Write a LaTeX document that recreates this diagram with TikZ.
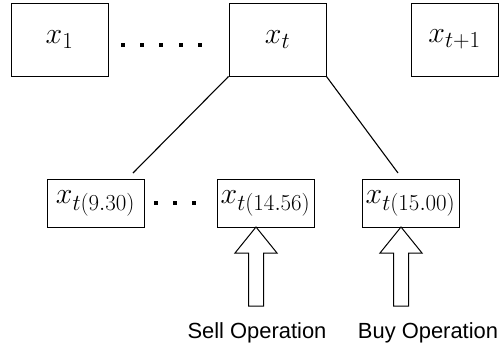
\RequirePackage{fix-cm}
\documentclass[tikz,border=0pt]{standalone}
\usepackage{fontspec}
\newfontfamily\opfont{Liberation Sans}
\DeclareMathSizes{30}{30}{23}{16}

\tikzset{
  statebox/.style={draw, line width=0.8pt, minimum width=97bp, minimum height=73bp, inner sep=0pt, font=\fontsize{30}{36}\selectfont},
  pricebox/.style={statebox, minimum height=48bp},
  blockarrow/.style={draw, line width=1pt, fill=white, line join=miter},
  optext/.style={font=\opfont\fontsize{22}{26}\selectfont, inner sep=0pt},
}

\begin{document}
\begin{tikzpicture}[x=1bp,y=-1bp]

\useasboundingbox (0,0) rectangle (499,348);

\node[statebox] (xOne) at (59.5,39.5) {$x_1$};
\node[statebox] (xT) at (277.5,39.5) {$x_t$};
\node[statebox, minimum width=87bp] (xNext) at (454.5,39.5) {$x_{t+1}$};

\foreach \dx in {122.7,142,161.3,180.7,200}
  \fill (\dx-2,42.7) rectangle ++(4,4);

\node[pricebox] (priceLow) at (95.5,203) {$x_{t(9.30)}$};
\node[pricebox] (priceSell) at (265.5,203) {$x_{t(14.56)}$};
\node[pricebox] (priceBuy) at (410.5,203) {$x_{t(15.00)}$};

\foreach \dx in {156,175,194}
  \fill (\dx-2,201.3) rectangle ++(4,4);

\coordinate (leftEnd) at (133,173);
\coordinate (rightEnd) at (398,173);
\draw[line width=1.1pt] (xT.south west) -- (leftEnd);
\draw[line width=1.1pt] (xT.south east) -- (rightEnd);

\coordinate (sellTip) at (256,227);
\coordinate (buyTip) at (401,227);
\draw[blockarrow] (sellTip) -- ++(21,26) -- ++(-13.5,0) -- ++(0,53) -- ++(-15,0) -- ++(0,-53) -- ++(-13.5,0) -- cycle;
\draw[blockarrow] (buyTip) -- ++(21,26) -- ++(-13.5,0) -- ++(0,53) -- ++(-15,0) -- ++(0,-53) -- ++(-13.5,0) -- cycle;

\node[optext] (sellLabel) at (257,333) {Sell Operation};
\node[optext] (buyLabel) at (428,333) {Buy Operation};
\end{tikzpicture}
\end{document}
